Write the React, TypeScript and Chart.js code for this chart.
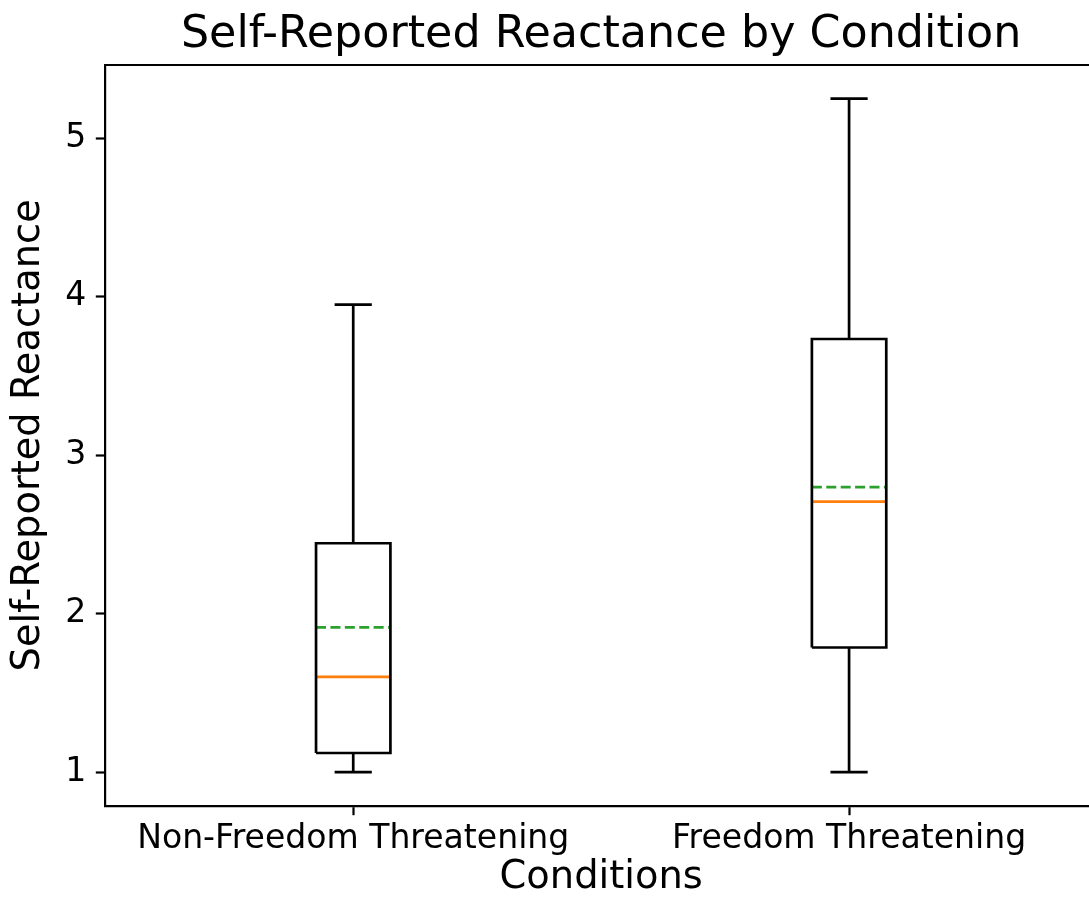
import React, { useEffect, useRef } from "react";
import { Chart, registerables } from "chart.js";

Chart.register(...registerables);

// ---- data ----
const categories: string[] = ["Non-Freedom Threatening", "Freedom Threatening"];
const positions: number[] = [1, 2];
const whiskerLow: number[] = [1.0, 1.0];
const q1: number[] = [1.12, 1.786];
const medians: number[] = [1.6, 2.707];
const means: number[] = [1.913, 2.798];
const q3: number[] = [2.444, 3.733];
const whiskerHigh: number[] = [3.95, 5.25];
const yTickValues: number[] = [1, 2, 3, 4, 5];

const TITLE = "Self-Reported Reactance by Condition";
const X_TITLE = "Conditions";
const Y_TITLE = "Self-Reported Reactance";

const BOX_HALF = 0.075;
const CAP_HALF = 0.0375;
const LW = 2.7;
const FONT = "'DejaVu Sans', 'Liberation Sans', sans-serif";

function seg(data: { x: number; y: number }[], color: string, dash: number[] = []) {
  return {
    data,
    showLine: true,
    borderColor: color,
    backgroundColor: color,
    borderWidth: LW,
    borderDash: dash,
    pointRadius: 0,
    pointHoverRadius: 0,
    fill: false,
    tension: 0,
    borderJoinStyle: "miter" as const,
    borderCapStyle: "butt" as const,
  };
}

export default function App() {
  const ref = useRef<HTMLCanvasElement | null>(null);

  useEffect(() => {
    if (!ref.current) return;
    const datasets: any[] = [];
    positions.forEach((p, i) => {
      // box
      datasets.push(
        seg(
          [
            { x: p - BOX_HALF, y: q1[i] },
            { x: p + BOX_HALF, y: q1[i] },
            { x: p + BOX_HALF, y: q3[i] },
            { x: p - BOX_HALF, y: q3[i] },
            { x: p - BOX_HALF, y: q1[i] },
          ],
          "#000000"
        )
      );
      // whiskers
      datasets.push(seg([{ x: p, y: q1[i] }, { x: p, y: whiskerLow[i] }], "#000000"));
      datasets.push(seg([{ x: p, y: q3[i] }, { x: p, y: whiskerHigh[i] }], "#000000"));
      // caps
      datasets.push(seg([{ x: p - CAP_HALF, y: whiskerLow[i] }, { x: p + CAP_HALF, y: whiskerLow[i] }], "#000000"));
      datasets.push(seg([{ x: p - CAP_HALF, y: whiskerHigh[i] }, { x: p + CAP_HALF, y: whiskerHigh[i] }], "#000000"));
      // median
      datasets.push(seg([{ x: p - BOX_HALF, y: medians[i] }, { x: p + BOX_HALF, y: medians[i] }], "#ff7f0e"));
      // mean
      datasets.push(seg([{ x: p - BOX_HALF, y: means[i] }, { x: p + BOX_HALF, y: means[i] }], "#2ca02c", [10, 4.4]));
    });

    const lo = Math.min(...whiskerLow);
    const hi = Math.max(...whiskerHigh);
    const margin = (hi - lo) * 0.05;

    const topSpine = {
      id: "topSpine",
      afterDraw(chart: any) {
        const { ctx, chartArea } = chart;
        ctx.save();
        ctx.strokeStyle = "#000";
        ctx.lineWidth = 2.2;
        ctx.beginPath();
        ctx.moveTo(chartArea.left - 1.1, chartArea.top);
        ctx.lineTo(chartArea.right, chartArea.top);
        ctx.stroke();
        ctx.restore();
      },
    };

    const chart = new Chart(ref.current, {
      type: "scatter",
      data: { datasets },
      plugins: [topSpine],
      options: {
        animation: false,
        responsive: false,
        devicePixelRatio: 1,
        layout: { padding: 0 },
        plugins: {
          legend: { display: false },
          tooltip: { enabled: false },
          title: {
            display: true,
            fullSize: false,
            text: TITLE,
            color: "#000",
            font: { family: FONT, size: 44.4, weight: "normal", lineHeight: 1 },
            padding: { top: 13, bottom: 7.6 },
          },
        },
        scales: {
          x: {
            type: "linear",
            min: positions[0] - 0.5,
            max: positions[positions.length - 1] + 0.5,
            afterBuildTicks: (scale: any) => {
              scale.ticks = positions.map((v) => ({ value: v }));
            },
            afterFit: (scale: any) => {
              scale.height = 93.3;
            },
            ticks: {
              color: "#000",
              font: { family: FONT, size: 33.1, lineHeight: 1.2 },
              padding: 4,
              maxRotation: 0,
              autoSkip: false,
              callback: (v: any) => {
                const idx = positions.indexOf(Number(v));
                return idx >= 0 ? categories[idx] : "";
              },
            },
            grid: {
              drawOnChartArea: false,
              drawTicks: true,
              tickLength: 9.5,
              tickWidth: 2.2,
              tickColor: "#000",
              color: "#000",
            },
            border: { display: true, color: "#000", width: 2.2 },
            title: {
              display: true,
              text: X_TITLE,
              color: "#000",
              font: { family: FONT, size: 38.4, lineHeight: 1 },
              padding: { top: 0, bottom: 2 },
            },
          },
          y: {
            type: "linear",
            min: lo - margin,
            max: hi + margin,
            afterBuildTicks: (scale: any) => {
              scale.ticks = yTickValues.map((v) => ({ value: v }));
            },
            afterFit: (scale: any) => {
              scale.width = 105.3;
            },
            ticks: {
              color: "#000",
              font: { family: FONT, size: 33.1, lineHeight: 1.2 },
              padding: 9.5,
              callback: (v: any) => String(v),
            },
            grid: {
              drawOnChartArea: false,
              drawTicks: true,
              tickLength: 9.5,
              tickWidth: 2.2,
              tickColor: "#000",
              color: "#000",
            },
            border: { display: true, color: "#000", width: 2.2 },
            title: {
              display: true,
              text: Y_TITLE,
              color: "#000",
              font: { family: FONT, size: 38.4, lineHeight: 1 },
              padding: { top: 10, bottom: 0 },
            },
          },
        },
      },
    } as any);

    return () => chart.destroy();
  }, []);

  return (
    <div
      style={{
        position: "absolute",
        left: 0,
        top: 0,
        width: 1089,
        height: 899,
        overflow: "hidden",
        background: "#fff",
      }}
    >
      <canvas ref={ref} width={1097} height={899} style={{ display: "block", width: 1097, height: 899 }} />
    </div>
  );
}
